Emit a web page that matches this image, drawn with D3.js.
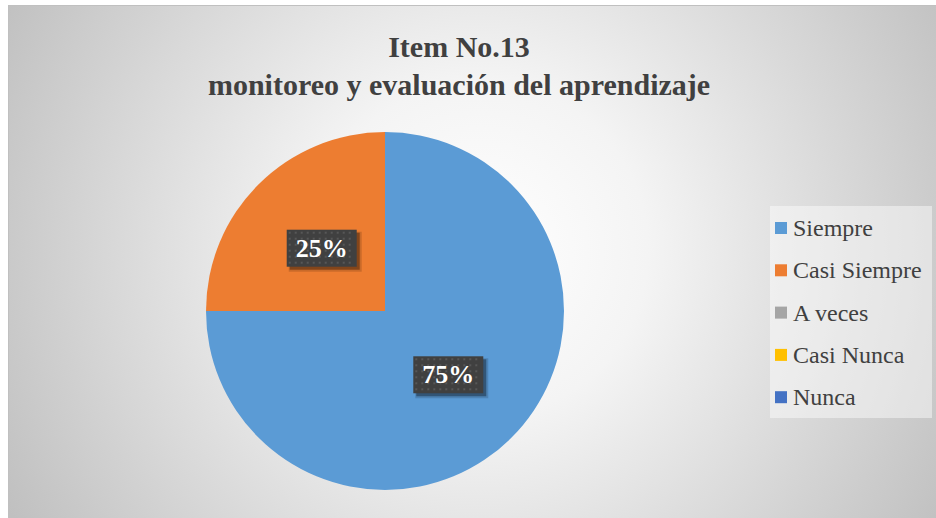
<!DOCTYPE html>
<html>
<head>
<meta charset="utf-8">
<script src="https://cdn.jsdelivr.net/npm/d3@7"></script>
<style>
  svg text, svg tspan { font-family: "Liberation Serif", "Tinos", "Times New Roman" !important; }
</style>
</head>
<body style="margin:0">
<script>
// Chart data
const categories = ["Siempre", "Casi Siempre", "A veces", "Casi Nunca", "Nunca"];
const values = [75, 25, 0, 0, 0];
const colors = ["#5B9BD5", "#ED7D31", "#A5A5A5", "#FFC000", "#4472C4"];
const titleLines = ["Item No.13", "monitoreo y evaluaci\u00f3n del aprendizaje"];

const width = 936, height = 518;
const fontName = "\"Liberation Serif\"";

const svg = d3.select("body")
    .append("svg")
    .attr("width", width)
    .attr("height", height)
    .attr("font-family", "Liberation Serif")
    .style("display", "block");

const defs = svg.append("defs");

// Radial background, light center, grey edges
const bg = defs.append("radialGradient")
    .attr("id", "bg")
    .attr("gradientUnits", "userSpaceOnUse")
    .attr("cx", 480).attr("cy", 250).attr("r", 560);
bg.append("stop").attr("offset", "0%").attr("stop-color", "#ffffff");
bg.append("stop").attr("offset", "30%").attr("stop-color", "#f4f4f4");
bg.append("stop").attr("offset", "100%").attr("stop-color", "#bdbdbd");

// Chart area
svg.append("rect")
    .attr("x", 8.5).attr("y", 5.5)
    .attr("width", 940).attr("height", 520)
    .attr("fill", "url(#bg)")
    .attr("stroke", "#c0c0c0");

// Title
const title = svg.append("text")
    .attr("x", 459)
    .attr("y", 57)
    .attr("text-anchor", "middle")
    .style("font-family", fontName)
    .style("font-weight", "bold")
    .style("font-size", "30px")
    .attr("fill", "#404040");

title.selectAll("tspan")
    .data(titleLines)
    .join("tspan")
    .attr("x", 459)
    .attr("dy", (d, i) => i === 0 ? 0 : 38)
    .text(d => d);

// Pie
const cx = 385, cy = 311, radius = 179;

const pie = d3.pie().sort(null).value(d => d.value);
const arcs = pie(categories.map((c, i) => ({ name: c, value: values[i], color: colors[i] })));

const arc = d3.arc().innerRadius(0).outerRadius(radius);
const labelArc = d3.arc().innerRadius(radius * 0.5).outerRadius(radius * 0.5);

const g = svg.append("g").attr("transform", "translate(" + cx + "," + cy + ")");

g.selectAll("path")
    .data(arcs.filter(d => d.value > 0))
    .join("path")
    .attr("d", arc)
    .attr("fill", d => d.data.color);

// Data labels: dark dotted box with a soft shadow
const total = d3.sum(values);
const boxW = 70, boxH = 37;
const labels = g.selectAll("g.label")
    .data(arcs.filter(d => d.value > 0))
    .join("g")
    .attr("class", "label")
    .attr("transform", d => "translate(" + labelArc.centroid(d) + ")");

labels.append("rect")
    .attr("x", -boxW / 2 + 2).attr("y", -18 + 2)
    .attr("width", boxW + 3).attr("height", boxH + 3)
    .attr("fill", "#000").attr("fill-opacity", 0.15);
labels.append("rect")
    .attr("x", -boxW / 2 + 3).attr("y", -18 + 3)
    .attr("width", boxW).attr("height", boxH)
    .attr("fill", "#000").attr("fill-opacity", 0.35);
labels.append("rect")
    .attr("x", -boxW / 2).attr("y", -18)
    .attr("width", boxW).attr("height", boxH)
    .attr("fill", "#404040");

const dotCells = d3.cross(d3.range(2, boxW - 2, 6), d3.range(2, boxH - 2, 6));
labels.selectAll("rect.dot")
    .data(dotCells)
    .join("rect")
    .attr("class", "dot")
    .attr("x", d => -boxW / 2 + d[0])
    .attr("y", d => -18 + d[1])
    .attr("width", 2).attr("height", 2)
    .attr("fill", "#575757");

labels.append("text")
    .attr("text-anchor", "middle")
    .attr("y", 9)
    .style("font-family", fontName)
    .style("font-weight", "bold")
    .style("font-size", "26px")
    .attr("fill", "#ffffff")
    .text(d => Math.round(d.value / total * 100) + "%");

// Legend
svg.append("rect")
    .attr("x", 770).attr("y", 206)
    .attr("width", 162).attr("height", 212)
    .attr("fill", "#ffffff")
    .attr("fill-opacity", 0.45);

const legend = svg.selectAll("g.legend")
    .data(categories)
    .join("g")
    .attr("class", "legend")
    .attr("transform", (d, i) => "translate(775," + (228 + i * 42.3) + ")");

legend.append("rect")
    .attr("x", 0).attr("y", -6)
    .attr("width", 12).attr("height", 12)
    .attr("fill", (d, i) => colors[i]);

legend.append("text")
    .attr("x", 18)
    .attr("y", 8)
    .style("font-family", fontName)
    .style("font-size", "24px")
    .attr("fill", "#404040")
    .text(d => d);
</script>
</body>
</html>
